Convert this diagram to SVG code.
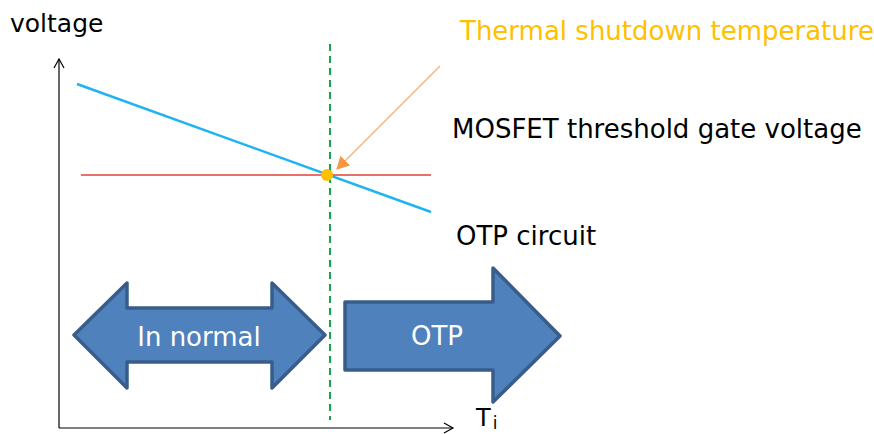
<svg xmlns="http://www.w3.org/2000/svg" width="874" height="434" viewBox="0 0 874 434">
<style>
text{font-family:"DejaVu Sans","Verdana",sans-serif}
.lbl{font-size:26px;fill:#000}
.big{fill:#4F81BD;stroke:#385D8A;stroke-width:3.5;stroke-linejoin:round}
.in{font-size:26px;fill:#fff;text-anchor:middle}
.ax{stroke:#000;stroke-width:1.2;fill:none}
</style>
<defs>
<marker id="open" markerWidth="12" markerHeight="12" refX="10" refY="6" orient="auto" markerUnits="userSpaceOnUse">
<path d="M1,1 L10,6 L1,11" fill="none" stroke="#000" stroke-width="1.2"/>
</marker>
<marker id="orh" markerWidth="14" markerHeight="14" refX="12" refY="7" orient="auto" markerUnits="userSpaceOnUse">
<path d="M0,0 L13,7 L0,14 Z" fill="#F79646"/>
</marker>
</defs>
<g id="axes">
<line class="ax" x1="59" y1="428" x2="59" y2="59" marker-end="url(#open)"/>
<line class="ax" x1="59" y1="428" x2="453" y2="428" marker-end="url(#open)"/>
</g>
<g id="connectors">
<line id="otp-line" x1="77" y1="84" x2="431" y2="212" stroke="#1FB4F0" stroke-width="2.5"/>
<line id="mosfet-line" x1="81" y1="175" x2="431" y2="175" stroke="#E0403A" stroke-width="1.3"/>
<line id="shutdown" x1="330" y1="44" x2="330" y2="420" stroke="#11A84A" stroke-width="2" stroke-dasharray="7,5"/>
<line id="pointer" x1="440" y1="66" x2="337" y2="169" stroke="#F9B27A" stroke-width="1.5" marker-end="url(#orh)"/>
</g>
<g id="crosspoint"><circle cx="327" cy="175" r="6" fill="#FFC000"/></g>
<g id="in-normal">
<path class="big" d="M74,335 L127,283 L127,308 L272,308 L272,283 L325,335 L272,388 L272,362 L127,362 L127,388 Z"/>
<text class="in" x="199" y="346">In normal</text>
</g>
<g id="otp">
<path class="big" d="M345,302 L493,302 L493,268 L560,336 L493,402 L493,370 L345,370 Z"/>
<text class="in" x="437" y="345">OTP</text>
</g>
<g id="labels">
<text class="lbl" x="10" y="32" style="font-size:25px">voltage</text>
<text class="lbl" x="460" y="40" style="fill:#FFC000">Thermal shutdown temperature</text>
<text class="lbl" x="452" y="138">MOSFET threshold gate voltage</text>
<text class="lbl" x="456" y="245">OTP circuit</text>
<text class="lbl" x="476" y="426" style="font-size:24px">T<tspan dx="2" dy="3" style="font-size:17px">i</tspan></text>
</g>
</svg>
